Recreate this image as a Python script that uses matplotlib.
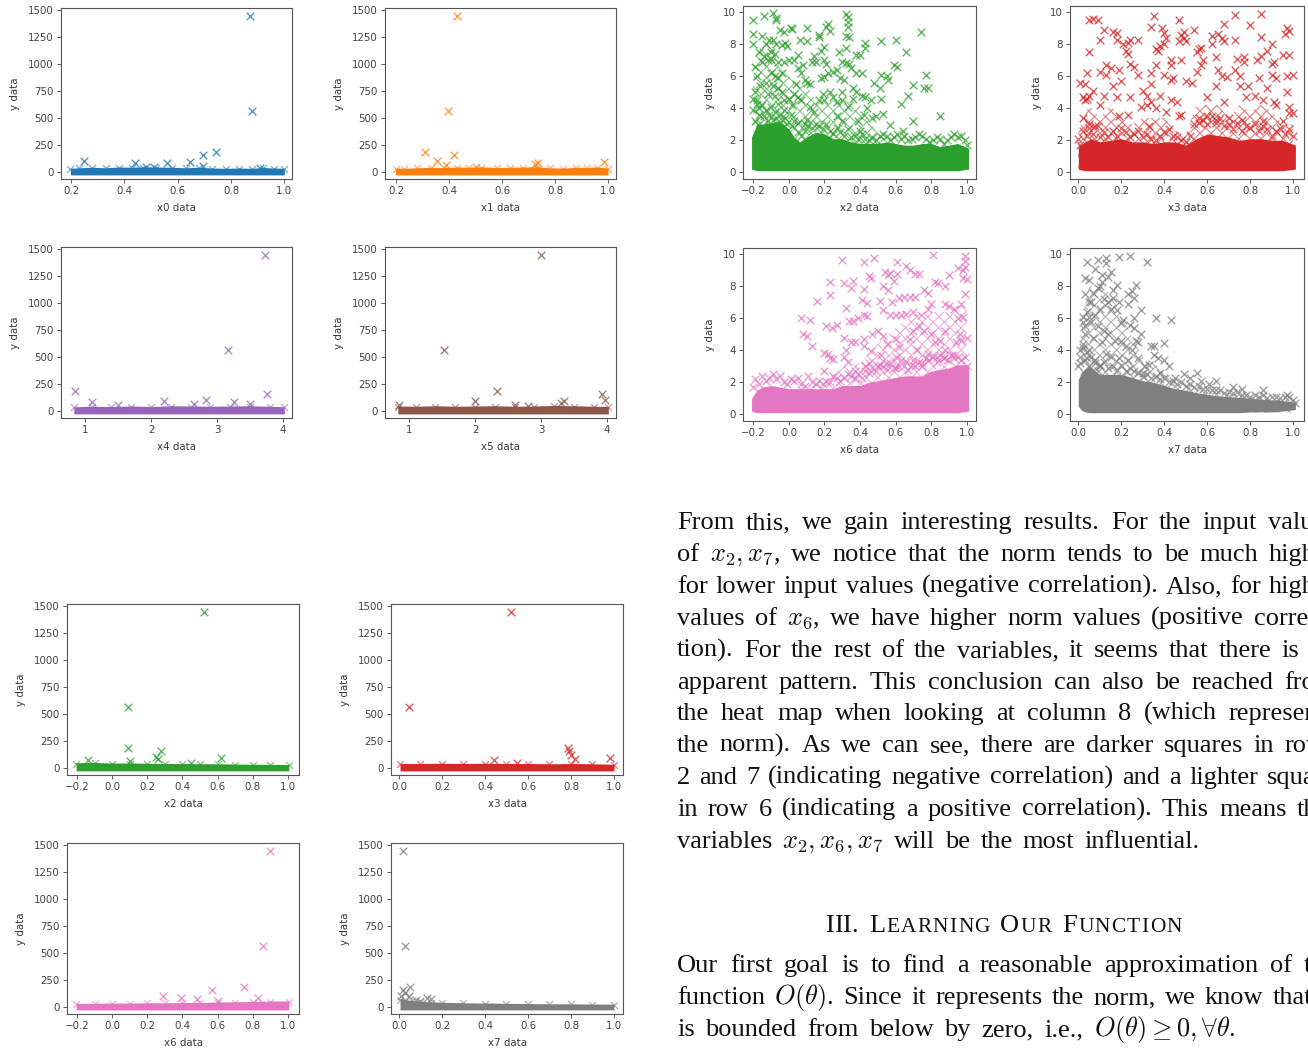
import numpy as np
import matplotlib
matplotlib.use("Agg")
import matplotlib.pyplot as plt

W, H = 1308, 1051

# colours
blue, orange, green, red, purple, brown, pink, gray = ("#1f77b4", "#ff7f0e", "#2ca02c", "#d62728",
                                                       "#9467bd", "#8c564b", "#e377c2", "#7f7f7f")

# ---- first set: full y range, outliers ----
full_x0 = [(.87, 1440), (.88, 565), (.745, 178), (.695, 150), (.645, 90), (.56, 80), (.44, 80), (.25, 100), (.695, 50), (.91, 30), (.48, 45), (.51, 40)]
full_x1 = [(.43, 1440), (.395, 565), (.31, 178), (.42, 150), (.355, 100), (.735, 85), (.725, 70), (.985, 90), (.39, 60), (.5, 40)]
full_x4 = [(3.72, 1440), (3.17, 565), (.85, 178), (3.75, 150), (1.1, 85), (2.83, 100), (2.2, 90), (3.25, 80), (3.5, 60), (1.5, 50), (2.65, 60)]
full_x5 = [(3.0, 1440), (1.53, 565), (2.33, 178), (3.93, 150), (3.97, 100), (2.0, 90), (3.35, 90), (3.3, 75), (2.6, 50), (.85, 50), (2.8, 45)]
full_x2 = [(.52, 1440), (.09, 565), (.09, 178), (.28, 150), (.25, 100), (.26, 85), (.62, 90), (-.14, 75), (.1, 60), (.45, 40)]
full_x3 = [(.52, 1440), (.045, 565), (.785, 178), (.79, 150), (.8, 120), (.82, 85), (.98, 90), (.44, 75), (.55, 40)]
full_x6 = [(.9, 1440), (.86, 565), (.75, 178), (.57, 150), (.29, 95), (.39, 85), (.48, 75), (.83, 85), (.6, 50)]
full_x7 = [(.02, 1440), (.03, 565), (.05, 178), (.02, 150), (.03, 130), (.01, 100), (.045, 100), (.13, 85), (.08, 60), (.15, 70), (.1, 50)]

# top edge of the solid band at the bottom of those panels
band_x0 = ([.198, .23, .28, .33, .38, .43, .47, .52, .58, .63, .68, .73, .78, .83, .88, .92, .96, 1.0], [26, 30, 34, 30, 36, 34, 38, 36, 34, 30, 34, 28, 26, 28, 26, 32, 28, 26])
band_x1 = ([.198, .23, .28, .33, .38, .43, .47, .52, .58, .63, .68, .73, .78, .83, .88, .92, .96, 1.0], [28, 26, 30, 34, 32, 36, 34, 38, 32, 34, 36, 38, 30, 28, 34, 32, 36, 28])
band_x4 = ([.83, 1.1, 1.4, 1.7, 2.0, 2.3, 2.6, 2.9, 3.2, 3.5, 3.8, 4.02], [30, 34, 32, 36, 32, 38, 36, 34, 36, 38, 34, 30])
band_x5 = ([.83, 1.1, 1.4, 1.7, 2.0, 2.3, 2.6, 2.9, 3.2, 3.5, 3.8, 4.02], [36, 34, 38, 34, 36, 38, 34, 36, 40, 38, 34, 32])
band_x2 = ([-.205, -.1, 0, .1, .2, .3, .4, .5, .6, .7, .8, .9, 1.005], [38, 40, 36, 36, 34, 32, 32, 30, 30, 28, 26, 26, 24])
band_x3 = ([.005, .1, .2, .3, .4, .5, .6, .7, .8, .9, 1.0], [32, 32, 34, 32, 34, 32, 32, 30, 32, 30, 26])
band_x6 = ([-.205, -.1, 0, .1, .2, .3, .4, .5, .6, .7, .8, .9, 1.005], [26, 26, 28, 28, 30, 30, 32, 32, 36, 38, 40, 44, 44])
band_x7 = ([.005, .03, .06, .1, .15, .2, .3, .4, .5, .6, .7, .8, .9, 1.0], [64, 54, 48, 42, 36, 34, 30, 28, 26, 24, 22, 22, 20, 20])

# ---- second set: y cut at 10 ----
cut_x2 = [(-.2, 9.55), (-.14, 9.8), (-.09, 9.95), (-.07, 9.65), (-.07, 9.55), (-.2, 8.65), (-.2, 8.05), (-.15, 8.5), (-.11, 8.3), (-.09, 8.25), (-.05, 8.9), (-.03, 8.8),
          (.01, 9.0), (.015, 8.95), (.1, 9.05), (.22, 9.3), (.21, 9.1), (.23, 8.85), (.17, 8.6), (.17, 8.45), (.32, 9.9), (.33, 9.7), (.33, 9.4), (.33, 9.1), (.32, 8.5), (.34, 8.45),
          (.06, 8.3), (.1, 8.2), (.43, 8.1), (.43, 7.8), (.52, 8.2), (.6, 8.3), (.74, 8.75), (.66, 7.5), (.2, 7.85), (.18, 7.6), (.28, 7.55), (.32, 7.75), (.38, 7.35), (.4, 7.35),
          (.05, 7.35), (.14, 7.3), (.13, 6.9), (.15, 6.9), (.2, 7.0), (.21, 6.8), (-.17, 7.5), (-.14, 7.3), (-.1, 7.1), (-.07, 8.0), (-.04, 7.95), (-.02, 8.1), (-.01, 7.9), (-.06, 6.9),
          (-.03, 6.9), (0, 7.0), (.03, 7.0), (.08, 6.7), (.05, 6.5), (.07, 6.2), (.3, 6.9), (.32, 6.85), (.34, 6.8), (.35, 6.5), (.27, 6.4), (.25, 6.3), (.22, 6.2), (.38, 6.2), (.41, 6.2),
          (.59, 6.7), (.61, 6.6), (.77, 6.1), (.52, 6.1), (.55, 6.05), (.56, 5.8), (.29, 5.9), (.31, 5.8), (.18, 5.9), (.2, 5.95), (.09, 5.8), (.1, 5.6), (.12, 5.5), (.04, 5.5), (.48, 5.6),
          (.51, 5.25), (.7, 5.45), (.76, 5.25), (.78, 5.25), (.67, 4.8), (.52, 4.6), (.63, 4.25), (.85, 3.5), (.7, 3.2), (.57, 2.95), (.64, 2.6), (.53, 3.65), (.47, 3.4), (.49, 3.5),
          (.44, 4.0), (.41, 4.8), (.43, 4.7), (.46, 4.5), (.38, 5.0), (.36, 5.3), (.39, 3.2), (.42, 3.6), (.4, 2.6), (-.19, 6.6), (-.18, 6.0), (-.16, 5.4), (-.13, 5.6), (-.1, 6.2),
          (-.08, 6.0), (-.06, 5.9), (-.04, 6.2), (-.09, 5.4), (-.06, 5.3), (-.04, 5.0), (-.12, 4.9), (-.08, 4.8), (-.03, 4.5), (-.2, 4.6), (-.18, 4.3), (-.17, 4.0), (-.19, 5.0), (0, 4.6),
          (.03, 4.9), (.05, 4.7), (.07, 4.5), (.02, 4.2), (.12, 4.1), (.14, 3.8), (.17, 4.5), (.2, 4.5), (.19, 4.9), (.23, 5.0), (.25, 4.7), (.27, 4.4), (.3, 5.0), (.3, 4.5), (.33, 4.1),
          (.36, 4.6), (.1, 3.3), (.09, 3.0), (.05, 3.1), (.27, 3.5), (.3, 3.2), (-.15, 6.9), (-.12, 7.0), (-.1, 7.5), (-.13, 8.0), (-.08, 7.4)]
cut_x3 = [(.05, 9.55), (.07, 9.6), (.09, 9.55), (.35, 9.8), (.34, 9.1), (.39, 9.0), (.47, 9.5), (.49, 8.75), (.48, 8.6), (.54, 8.9), (.68, 9.3), (.73, 9.85), (.8, 9.2), (.85, 9.9), (.97, 9.0),
          (.98, 8.85), (.96, 8.65), (.12, 8.9), (.1, 8.3), (.16, 8.8), (.18, 8.7), (.18, 8.3), (.24, 8.3), (.23, 8.1), (.28, 8.3), (.21, 8.0), (.4, 8.7), (.41, 8.4), (.4, 8.0), (.38, 7.9),
          (.36, 7.7), (.37, 7.6), (.47, 8.2), (.49, 8.4), (.5, 8.2), (.62, 8.5), (.62, 8.05), (.65, 8.65), (.67, 8.4), (.68, 8.2), (.73, 8.3), (.85, 8.45), (.9, 8.0), (.05, 7.5), (.22, 7.6),
          (.23, 7.4), (.56, 7.7), (.55, 7.5), (.57, 7.8), (.48, 7.0), (.43, 7.0), (.43, 6.7), (.64, 7.2), (.74, 7.1), (.77, 7.2), (.77, 6.9), (.83, 7.0), (.85, 7.3), (.88, 7.6), (.91, 6.9),
          (.9, 6.8), (.95, 7.35), (.98, 7.35), (.24, 6.8), (.26, 6.6), (.36, 6.7), (.57, 6.7), (.58, 7.0), (.55, 6.3), (.13, 6.7), (.15, 6.5), (.1, 6.3), (.04, 6.2), (.13, 6.1), (.19, 6.4),
          (.28, 6.1), (.34, 6.2), (.4, 6.1), (.65, 6.4), (.67, 6.0), (.69, 5.95), (.73, 6.4), (.75, 6.0), (.84, 5.9), (.9, 6.1), (.92, 5.9), (.97, 6.0), (1.0, 6.1), (.01, 5.6), (.03, 5.5),
          (.07, 5.1), (.16, 5.4), (.2, 5.7), (.3, 5.1), (.34, 5.5), (.43, 5.8), (.44, 5.9), (.5, 5.7), (.53, 5.6), (.64, 5.4), (.75, 5.4), (.79, 5.4), (.88, 5.3), (.97, 5.0), (.02, 4.7),
          (.04, 4.6), (.05, 4.8), (.03, 4.5), (.12, 4.8), (.18, 4.7), (.24, 4.7), (.32, 4.8), (.34, 4.4), (.38, 4.8), (.43, 4.5), (.46, 4.4), (.6, 4.7), (.68, 4.4), (.78, 4.7), (.82, 4.8),
          (.86, 4.5), (.91, 4.4), (.98, 4.1), (.1, 4.2), (.29, 4.1), (.32, 4.2), (.36, 4.0), (.41, 3.8), (.48, 3.6), (.47, 3.5), (.92, 4.2), (.02, 3.4), (.19, 3.55), (.23, 3.6), (.33, 2.9),
          (.56, 3.4), (.6, 3.5), (.64, 3.3), (.7, 3.4), (.76, 3.3), (.86, 3.2), (.95, 3.2), (1.0, 3.7), (.98, 3.7), (.05, 3.0), (.08, 2.9)]
cut_x6 = [(.99, 9.9), (.99, 9.6), (.99, 9.2), (.95, 9.15), (.98, 9.0), (.81, 9.95), (.48, 9.8), (.42, 9.55), (.3, 9.65), (.61, 9.55), (.66, 9.25), (.68, 9.0), (.71, 8.8), (.73, 8.75), (.54, 8.9),
          (.57, 8.85), (.56, 8.7), (.45, 8.65), (.46, 8.5), (.61, 8.75), (.59, 8.35), (.23, 8.25), (.31, 8.2), (.36, 8.35), (.35, 7.9), (.42, 7.85), (.53, 8.0), (.56, 7.75), (.82, 8.3), (.84, 8.2),
          (.9, 8.7), (.98, 8.5), (1.0, 8.45), (.88, 8.0), (.76, 7.8), (.78, 7.6), (.71, 7.35), (.68, 7.35), (.62, 7.3), (.65, 7.35), (.99, 7.5), (.23, 7.45), (.16, 7.1), (.41, 7.15), (.44, 6.95),
          (.51, 7.1), (.58, 7.0), (.32, 6.65), (.07, 6.05), (.12, 5.9), (.21, 5.5), (.24, 5.4), (.27, 5.6), (.34, 5.85), (.36, 5.85), (.39, 6.0), (.42, 6.2), (.44, 6.15), (.53, 6.5), (.57, 6.2),
          (.6, 6.2), (.63, 6.2), (.5, 5.2), (.47, 5.0), (.53, 4.9), (.08, 5.0), (.1, 4.9), (.13, 4.25), (.31, 4.8), (.35, 4.5), (.37, 4.55), (.42, 4.7), (.42, 4.3), (.32, 4.0), (.2, 3.85), (.22, 3.8),
          (.23, 3.5), (.25, 3.45), (.31, 3.6), (.33, 3.3), (.37, 2.7), (.2, 2.7), (.46, 3.95), (.55, 4.4), (.6, 4.7), (.62, 4.2), (.68, 4.7), (.7, 5.2), (.73, 5.5), (.76, 5.2), (.8, 5.0), (.82, 4.5),
          (.85, 4.6), (.88, 5.2), (.9, 6.8), (.88, 6.9), (.93, 6.6), (.95, 6.0), (.98, 6.1), (.97, 6.9), (.78, 6.6), (.74, 6.2), (.7, 6.4), (.66, 6.3), (.8, 6.9), (.94, 4.5), (.97, 4.6), (1.0, 4.75),
          (.96, 5.0), (.88, 4.0), (.72, 4.0), (.78, 3.8), (.6, 3.6), (.52, 3.7), (.55, 3.2), (.45, 3.2), (.43, 3.0), (.66, 3.3), (.83, 3.6), (.87, 3.5), (.92, 3.7), (.7, 3.4), (.75, 3.2), (.5, 3.0), (.6, 2.9)]
cut_x7 = [(.04, 9.55), (.09, 9.65), (.13, 9.8), (.13, 9.45), (.19, 9.85), (.24, 9.9), (.32, 9.55), (.03, 8.5), (.05, 8.4), (.08, 9.1), (.11, 8.7), (.14, 8.6), (.15, 8.9), (.18, 8.1), (.27, 8.1),
          (.25, 7.7), (.23, 7.5), (.26, 7.3), (.23, 6.9), (.29, 6.5), (.36, 6.05), (.43, 5.9), (.26, 6.0), (.24, 5.6), (.2, 5.7), (.26, 5.4), (.29, 5.0), (.27, 4.6), (.28, 4.5), (.34, 4.3), (.35, 4.3),
          (.4, 4.45), (.35, 3.7), (.37, 3.5), (.4, 3.4), (.42, 3.0), (.49, 2.5), (.52, 2.3), (.55, 2.6), (.57, 2.1), (.61, 1.9), (.64, 2.1), (.72, 1.7), (.76, 1.6), (.86, 1.5), (.97, 1.2), (.03, 7.5),
          (.05, 7.0), (.07, 7.6), (.09, 7.9), (.1, 8.0), (.12, 7.2), (.14, 7.0), (.16, 7.3), (.18, 6.5), (.15, 6.6), (.1, 6.6), (.08, 6.2), (.05, 6.1), (.02, 6.1), (.03, 5.5), (.06, 5.8), (.09, 5.5),
          (.12, 5.2), (.14, 5.0), (.17, 4.6), (.2, 4.6), (.22, 4.3), (.25, 4.0), (.11, 4.5), (.07, 4.8), (.03, 5.0), (.02, 4.4), (.01, 4.0), (.05, 4.0), (.04, 3.5), (.13, 3.8), (.15, 3.6), (.19, 3.5),
          (.23, 3.4), (.28, 3.5), (.31, 3.0), (.33, 3.1), (.01, 3.2), (.08, 3.2), (.1, 3.0), (.3, 2.6), (.38, 2.6), (.45, 2.3), (.02, 5.8), (.04, 6.4), (.06, 7.0), (.11, 8.3), (.16, 7.8), (.19, 7.0), (.21, 5.9)]

# marks along the top of the dense cloud
edge_x2 = [(-.2, 3.9), (-.19, 3.2), (-.18, 4.5), (-.17, 3.6), (-.16, 3.1), (-.15, 4.2), (-.14, 3.5), (-.13, 3.9), (-.12, 3.2), (-.11, 3.6), (-.1, 4.1), (-.09, 3.3), (-.08, 3.8), (-.07, 3.4), (-.06, 4.3), (-.05, 3.6),
           (-.04, 3.3), (-.03, 3.9), (-.02, 3.4), (-.01, 3.0), (.01, 3.6), (.02, 2.9), (.03, 3.2), (.05, 2.5), (.07, 2.3), (.09, 2.6), (.11, 2.9), (.13, 2.8), (.15, 3.0), (.17, 2.9), (.19, 2.7), (.21, 3.0), (.23, 2.6),
           (.25, 2.4), (.27, 2.8), (.29, 2.5), (.31, 2.3), (.33, 2.7), (.35, 2.2), (.37, 2.3), (.39, 2.1), (.41, 2.4), (.43, 2.1), (.45, 2.0), (.47, 2.2), (.49, 2.0), (.51, 2.3), (.53, 2.4), (.55, 2.3), (.57, 2.0),
           (.59, 2.2), (.61, 2.4), (.63, 2.1), (.65, 2.3), (.67, 2.0), (.69, 2.1), (.71, 2.2), (.73, 2.4), (.75, 2.3), (.77, 2.1), (.79, 1.9), (.81, 2.0), (.83, 2.2), (.85, 2.1), (.87, 1.8), (.89, 2.0), (.91, 2.2),
           (.93, 2.4), (.95, 2.2), (.97, 2.3), (.99, 2.0), (1.0, 1.7)]
edge_x3 = [(.0, 2.1), (.01, 1.7), (.02, 2.6), (.04, 2.3), (.05, 2.8), (.07, 2.4), (.09, 2.9), (.1, 2.2), (.12, 2.5), (.14, 2.2), (.16, 2.6), (.18, 2.3), (.2, 2.8), (.22, 2.5), (.24, 2.2), (.26, 2.4), (.28, 2.6), (.3, 2.2),
           (.32, 2.4), (.34, 2.1), (.36, 2.0), (.38, 2.3), (.4, 2.5), (.42, 2.7), (.44, 2.3), (.46, 2.2), (.48, 2.0), (.5, 1.9), (.52, 2.3), (.54, 3.0), (.56, 3.1), (.58, 3.3), (.6, 3.0), (.62, 3.5), (.64, 3.1), (.66, 3.4),
           (.68, 2.9), (.7, 3.0), (.72, 2.7), (.74, 3.1), (.76, 2.6), (.78, 2.9), (.8, 2.8), (.82, 3.0), (.84, 2.6), (.86, 2.9), (.88, 2.7), (.9, 2.3), (.92, 2.6), (.94, 2.8), (.96, 2.4), (.98, 2.7), (1.0, 2.3)]
edge_x6 = [(-.2, 1.7), (-.19, 2.2), (-.17, 1.9), (-.15, 2.4), (-.13, 2.1), (-.11, 2.3), (-.09, 2.5), (-.07, 2.2), (-.05, 2.4), (-.03, 2.0), (-.01, 1.9), (.01, 2.2), (.03, 2.1), (.05, 2.3), (.07, 1.9), (.09, 1.8),
           (.11, 2.4), (.13, 2.0), (.15, 1.9), (.17, 2.1), (.19, 1.9), (.21, 2.1), (.23, 2.0), (.25, 2.4), (.27, 2.3), (.29, 2.1), (.31, 2.3), (.33, 2.5), (.35, 2.4), (.37, 2.2), (.39, 2.5), (.41, 2.3), (.43, 2.7),
           (.45, 2.6), (.47, 2.9), (.49, 2.7), (.51, 3.1), (.53, 3.0), (.55, 2.8), (.57, 3.2), (.59, 2.9), (.61, 3.0), (.63, 3.4), (.65, 3.0), (.67, 2.8), (.69, 3.1), (.71, 3.0), (.73, 3.3), (.75, 3.0), (.77, 3.5),
           (.79, 3.4), (.81, 3.6), (.83, 3.3), (.85, 3.7), (.87, 3.5), (.89, 3.4), (.91, 3.7), (.93, 3.5), (.95, 3.6), (.97, 3.4), (.99, 3.6), (1.0, 3.0)]
edge_x7 = [(.0, 3.0), (.01, 3.6), (.02, 4.2), (.03, 3.4), (.04, 3.9), (.05, 3.0), (.06, 3.6), (.07, 2.8), (.08, 3.4), (.09, 2.7), (.1, 3.1), (.12, 3.3), (.14, 2.9), (.16, 3.0), (.18, 2.8), (.2, 3.1), (.22, 2.7), (.24, 2.9),
           (.26, 2.7), (.28, 2.6), (.3, 2.4), (.32, 2.5), (.34, 2.3), (.36, 2.4), (.38, 2.2), (.4, 2.3), (.42, 2.0), (.44, 2.1), (.46, 1.9), (.48, 2.0), (.5, 1.8), (.52, 1.9), (.54, 1.7), (.56, 1.8), (.58, 1.6), (.6, 1.6),
           (.62, 1.5), (.64, 1.5), (.66, 1.5), (.68, 1.3), (.7, 1.4), (.72, 1.3), (.74, 1.4), (.76, 1.2), (.78, 1.2), (.8, 1.1), (.82, 1.2), (.84, 1.1), (.86, 1.2), (.88, 1.0), (.9, 1.05), (.92, 1.1), (.94, 1.0),
           (.96, 1.05), (.98, 1.1), (1.0, .9), (1.01, .7)]

# edges of the dense cloud: x, top, bottom
dense_x2 = ([-.21, -.18, -.15, -.1, -.05, 0, .03, .06, .1, .15, .2, .25, .3, .35, .4, .45, .5, .55, .6, .65, .7, .75, .8, .85, .9, .95, 1.01],
            [2.2, 3.0, 3.0, 3.1, 3.2, 2.7, 2.2, 1.9, 2.2, 2.5, 2.4, 2.1, 2.1, 1.9, 1.8, 1.8, 1.8, 1.9, 1.8, 1.7, 1.7, 1.8, 1.8, 1.6, 1.7, 1.8, 1.5],
            [.2, .1, .1, .1, .1, .1, .1, .1, .1, .1, .1, .1, .1, .1, .1, .1, .1, .1, .1, .1, .1, .1, .1, .1, .1, .1, .2])
dense_x3 = ([0, .03, .06, .1, .15, .2, .25, .3, .35, .4, .45, .5, .55, .6, .65, .7, .75, .8, .85, .9, .95, 1.01],
            [1.6, 1.9, 2.1, 1.9, 2.0, 2.1, 1.9, 1.9, 1.8, 1.9, 1.9, 1.7, 2.1, 2.4, 2.3, 2.2, 2.0, 2.1, 2.1, 2.0, 2.0, 1.7],
            [.2, .1, .1, .1, .1, .1, .1, .1, .1, .1, .1, .1, .1, .1, .1, .1, .1, .1, .1, .1, .1, .2])
dense_x6 = ([-.21, -.18, -.15, -.1, -.05, 0, .05, .1, .15, .2, .25, .3, .35, .4, .45, .5, .55, .6, .65, .7, .75, .8, .85, .9, .95, 1.01],
            [1.0, 1.5, 1.7, 1.8, 1.7, 1.6, 1.6, 1.6, 1.6, 1.6, 1.6, 1.8, 1.8, 1.8, 2.0, 2.1, 2.2, 2.3, 2.4, 2.4, 2.4, 2.7, 2.8, 2.9, 3.1, 3.1],
            [.2, .1, .1, .1, .1, .1, .1, .1, .1, .1, .1, .1, .1, .1, .1, .1, .1, .1, .1, .1, .1, .1, .1, .1, .1, .2])
dense_x7 = ([0, .02, .05, .1, .15, .2, .25, .3, .35, .4, .45, .5, .55, .6, .65, .7, .75, .8, .85, .9, .95, 1.01],
            [2.2, 2.7, 3.0, 2.5, 2.5, 2.5, 2.3, 2.1, 2.0, 1.8, 1.6, 1.5, 1.35, 1.25, 1.15, 1.1, 1.05, 1.0, .95, .9, .85, .75],
            [.5, .2, .1, .1, .1, .1, .1, .1, .1, .1, .1, .1, .1, .1, .1, .1, .1, .15, .15, .15, .2, .3])

# where the crosses overlap into a mesh
mesh_x2 = ([-.2, -.15, -.1, -.05, 0, .05, .1, .15, .2, .25, .3, .35, .4, .45, .5, .55], [7.0, 8.0, 8.0, 6.5, 6.0, 5.5, 5.5, 4.5, 4.5, 4.5, 4.5, 4.5, 4.2, 3.4, 2.4, 2.0])
mesh_x3 = ([0, .05, .1, .15, .2, .25, .3, .35, .4, .45, .5, .55, .6, .65, .7, .75, .8, .85, .9, .95, 1.0], [2.6, 4.2, 3.4, 4.2, 3.4, 3.0, 3.4, 3.4, 3.4, 2.6, 2.4, 4.2, 4.2, 4.2, 3.4, 4.2, 3.8, 4.2, 3.8, 3.0, 3.0])
mesh_x6 = ([-.2, .2, .3, .4, .5, .6, .7, .8, .9, 1.0], [1.0, 2.0, 3.0, 3.2, 4.4, 5.4, 6.2, 6.4, 6.4, 7.0])
mesh_x7 = ([.01, .05, .1, .15, .2, .25, .3, .35, .4, .45, .5, .6, .8, 1.0], [5.5, 8.0, 8.0, 7.5, 6.2, 4.8, 3.6, 3.2, 2.7, 2.2, 1.9, 1.6, 1.1, .8])

# page text, line by line (cut off at the right page edge in the original)
para_one = [
    "From this, we gain interesting results. For the input values",
    "of $x_2,x_7$, we notice that the norm tends to be much higher",
    "for lower input values (negative correlation). Also, for higher",
    "values of $x_6$, we have higher norm values (positive correla-",
    "tion). For the rest of the variables, it seems that there is no",
    "apparent pattern. This conclusion can also be reached from",
    "the heat map when looking at column 8 (which represents",
    "the norm). As we can see, there are darker squares in rows",
    "2 and 7 (indicating negative correlation) and a lighter square",
    "in row 6 (indicating a positive correlation). This means that",
]
para_one_end = "variables $x_2,x_6,x_7$ will be the most influential."
para_two = [
    "Our first goal is to find a reasonable approximation of the",
    r"function $O(\theta)$. Since it represents the norm, we know that it",
]
para_two_end = r"is bounded from below by zero, i.e., $O(\theta)\geq0,\forall\theta$."
heading_words = [("III.", 0), ("LEARNING", 11), ("OUR", 9), ("FUNCTION", 9)]

plt.rcParams["font.family"] = "DejaVu Sans"
plt.rcParams["mathtext.fontset"] = "cm"
plt.rcParams["hatch.linewidth"] = .8
text_col = "#3a3a3a"

fig = plt.figure(figsize=(W / 100, H / 100), dpi=100)


def panel(rect, pts, band, color, name, xlim, ylim, yticks, xticks, dense=None, edge=None, mesh=None):
    l, t, r, b = rect
    ax = fig.add_axes([l / W, 1 - b / H, (r - l) / W, (b - t) / H])
    if dense is not None:
        ax.fill_between(mesh[0], .1, mesh[1], facecolor="none", edgecolor=color, hatch="xxx", alpha=.6, lw=0, zorder=1)
        ax.fill_between(dense[0], dense[2], dense[1], color=color, lw=0, zorder=2)
        ex, ey = np.array(edge).T
        ax.scatter(ex, ey, marker="x", s=30, color=color, alpha=.7, linewidths=1, zorder=3)
    else:
        ax.fill_between(band[0], -30, [v * 1.2 for v in band[1]], color=color, lw=0, zorder=1)
        ax.scatter(band[0], band[1], marker="x", s=24, color=color, alpha=.6, linewidths=.9, zorder=2)
    xs, ys = np.array(pts).T
    ax.scatter(xs, ys, marker="x", s=30, color=color, alpha=.75, linewidths=1, zorder=3)
    ax.set_xlim(*xlim)
    ax.set_ylim(*ylim)
    ax.set_xticks(xticks)
    ax.set_yticks(yticks)
    ax.set_xlabel(name + " data", fontsize=7.4, color=text_col, labelpad=5.2)
    ax.set_ylabel("y data", fontsize=7.4, color=text_col, labelpad=6)
    ax.tick_params(labelsize=7.4, length=2.6, width=.6, colors="#444444", pad=2.5)
    for s in ax.spines.values():
        s.set_linewidth(.8)
        s.set_color("#555555")
    return ax


y_full = [0, 250, 500, 750, 1000, 1250, 1500]
lim_full = (-68, 1518)
y_cut = [0, 2, 4, 6, 8, 10]
lim_cut = (-.42, 10.4)
tick_a = [.2, .4, .6, .8, 1.0]
tick_b = [1, 2, 3, 4]
tick_c = [-.2, 0, .2, .4, .6, .8, 1.0]
tick_d = [0, .2, .4, .6, .8, 1.0]

panel((61, 8, 292, 179), full_x0, band_x0, blue, "x0", (.1625, 1.029), lim_full, y_full, tick_a)
panel((385, 8, 616, 179), full_x1, band_x1, orange, "x1", (.158, 1.03), lim_full, y_full, tick_a)
panel((61, 247, 292, 418), full_x4, band_x4, purple, "x4", (.636, 4.136), lim_full, y_full, tick_b)
panel((385, 247, 616, 418), full_x5, band_x5, brown, "x5", (.636, 4.136), lim_full, y_full, tick_b)
panel((67, 604, 299, 775), full_x2, band_x2, green, "x2", (-.257, 1.063), lim_full, y_full, tick_c)
panel((391, 604, 623, 775), full_x3, band_x3, red, "x3", (-.037, 1.042), lim_full, y_full, tick_d)
panel((67, 843, 299, 1014), full_x6, band_x6, pink, "x6", (-.257, 1.063), lim_full, y_full, tick_c)
panel((391, 843, 623, 1014), full_x7, band_x7, gray, "x7", (-.037, 1.042), lim_full, y_full, tick_d)

panel((743, 6, 976, 179), cut_x2, None, green, "x2", (-.258, 1.052), lim_cut, y_cut, tick_c, dense_x2, edge_x2, mesh_x2)
panel((1070, 6, 1304, 179), cut_x3, None, red, "x3", (-.0386, 1.05), lim_cut, y_cut, tick_d, dense_x3, edge_x3, mesh_x3)
panel((743, 248, 976, 421), cut_x6, None, pink, "x6", (-.258, 1.052), lim_cut, y_cut, tick_c, dense_x6, edge_x6, mesh_x6)
panel((1070, 248, 1304, 421), cut_x7, None, gray, "x7", (-.0386, 1.05), lim_cut, y_cut, tick_d, dense_x7, edge_x7, mesh_x7)

# body text
serif = "Liberation Serif"
body = 19
renderer = fig.canvas.get_renderer()


def put(s, x, base, size=body):
    return fig.text(x / W, 1 - base / H, s, fontsize=size, family=serif, color="#111111", va="baseline", ha="left")


def set_line(s, base, x0=677, x1=None, gap=10):
    words = s.split(" ")
    items = [put(w, x0, base) for w in words]
    widths = [t.get_window_extent(renderer).width for t in items]
    if x1 is not None:
        gap = (x1 - x0 - sum(widths)) / (len(words) - 1)
    x = x0
    for t, w in zip(items, widths):
        t.set_x(x / W)
        x += w + gap


column_end = 1336
bases = [529, 561, 593, 625, 657, 689, 720, 752, 784, 816]
for s, b in zip(para_one, bases):
    set_line(s, b, x1=column_end)
set_line(para_one_end, 848)
for s, b in zip(para_two, [972, 1004]):
    set_line(s, b, x1=column_end)
set_line(para_two_end, 1036, gap=10.6)

# small caps heading, letter by letter
x = 825
for word, extra in heading_words:
    x += extra
    for i, ch in enumerate(word):
        big = word == "III." or i == 0
        t = put(ch, x, 932, body if big else 15.4)
        x += t.get_window_extent(renderer).width + (0 if word == "III." else 1.3)

fig.savefig("out.png", dpi=100)
